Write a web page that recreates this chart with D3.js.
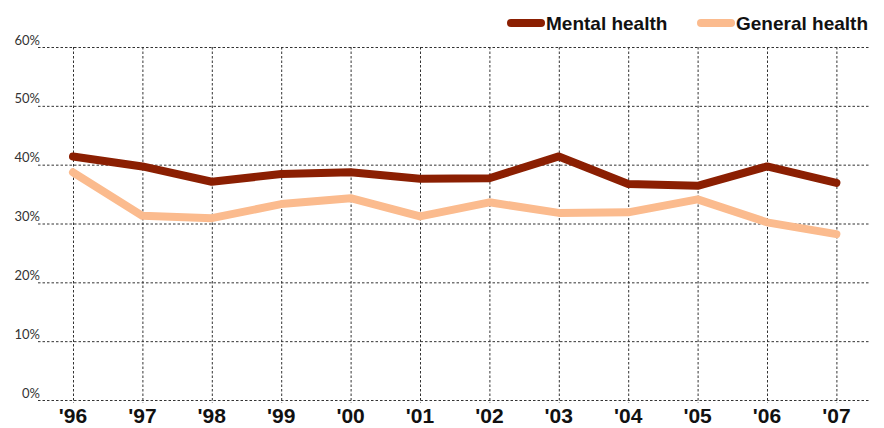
<!DOCTYPE html>
<html>
<head>
<meta charset="utf-8">
<script src="https://cdn.jsdelivr.net/npm/d3@7"></script>
<style>
  html, body { margin: 0; padding: 0; background: #fff; }
  svg { display: block; }
</style>
</head>
<body>
<svg id="chart" width="884" height="428"></svg>
<script>
// Share of respondents by year
const years = ["'96", "'97", "'98", "'99", "'00", "'01", "'02", "'03", "'04", "'05", "'06", "'07"];
const mentalHealth = [41.4, 39.7, 37.1, 38.4, 38.7, 37.6, 37.7, 41.4, 36.7, 36.4, 39.7, 36.9];
const generalHealth = [38.7, 31.3, 30.9, 33.3, 34.3, 31.2, 33.6, 31.8, 31.9, 34.1, 30.2, 28.2];
const yTicks = [0, 10, 20, 30, 40, 50, 60];
const seriesNames = ["Mental health", "General health"];
const seriesColors = ["#8b1f02", "#fbbb8e"];

const svg = d3.select("#chart");

const x = d3.scalePoint().domain(years).range([73, 836.4]);
const y = d3.scaleLinear().domain([0, 60]).range([400, 47]);

const gridColor = "#333";

// horizontal gridlines and percentage labels
const yAxis = svg.append("g");
yAxis.selectAll("line").data(yTicks).join("line")
  .attr("x1", 38).attr("x2", 870)
  .attr("y1", d => y(d) + 0.5).attr("y2", d => y(d) + 0.5)
  .attr("stroke", gridColor).attr("stroke-width", 1)
  .attr("stroke-dasharray", "2.5,2");
yAxis.selectAll("text").data(yTicks).join("text")
  .attr("x", 40).attr("y", d => y(d) - 2.5)
  .attr("text-anchor", "end")
  .attr("font-family", "Lato, 'Liberation Sans', sans-serif")
  .attr("font-size", 13)
  .attr("fill", "#333")
  .text(d => d + "%");

// vertical gridlines and year labels
const xAxis = svg.append("g");
xAxis.selectAll("line").data(years).join("line")
  .attr("x1", d => x(d) + 0.5).attr("x2", d => x(d) + 0.5)
  .attr("y1", y(60)).attr("y2", y(0) + 3)
  .attr("stroke", gridColor).attr("stroke-width", 1)
  .attr("stroke-dasharray", "2.5,2");
xAxis.selectAll("text").data(years).join("text")
  .attr("x", d => x(d)).attr("y", 423)
  .attr("text-anchor", "middle")
  .attr("font-family", "'Liberation Sans', Arial, sans-serif")
  .attr("font-weight", "bold")
  .attr("font-size", 21)
  .attr("fill", "#111")
  .text(d => d);

// series lines
const line = d3.line()
  .x((d, i) => x(years[i]))
  .y(d => y(d));

[generalHealth, mentalHealth].forEach((vals, k) => {
  const color = k === 0 ? seriesColors[1] : seriesColors[0];
  svg.append("path")
    .datum(vals)
    .attr("d", line)
    .attr("fill", "none")
    .attr("stroke", color)
    .attr("stroke-width", 8)
    .attr("stroke-linejoin", "round")
    .attr("stroke-linecap", "round");
});

// legend
const legendItems = [
  { name: seriesNames[0], color: seriesColors[0], x: 510 },
  { name: seriesNames[1], color: seriesColors[1], x: 700 }
];
const legend = svg.append("g");
legendItems.forEach(item => {
  legend.append("line")
    .attr("x1", item.x + 1).attr("x2", item.x + 31)
    .attr("y1", 23).attr("y2", 23)
    .attr("stroke", item.color).attr("stroke-width", 8)
    .attr("stroke-linecap", "round");
  legend.append("text")
    .attr("x", item.x + 36).attr("y", 30)
    .attr("font-family", "'Liberation Sans', Arial, sans-serif")
    .attr("font-weight", "bold")
    .attr("font-size", 19)
    .attr("fill", "#111")
    .text(item.name);
});
</script>
</body>
</html>
